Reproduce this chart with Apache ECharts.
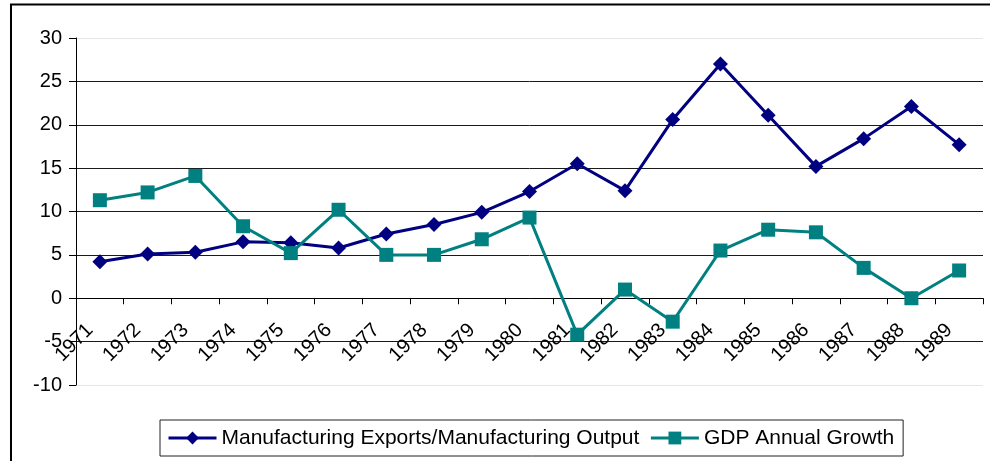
<!DOCTYPE html>
<html>
<head>
<meta charset="utf-8">
<script src="https://cdn.jsdelivr.net/npm/echarts@6/dist/echarts.min.js"></script>
<style>
html,body{margin:0;padding:0;background:#fff;}
#chart{width:990px;height:461px;}
</style>
</head>
<body>
<div id="chart"></div>
<script>
const years = ['1971','1972','1973','1974','1975','1976','1977','1978','1979','1980','1981','1982','1983','1984','1985','1986','1987','1988','1989'];
const mfgExports = [4.2,5.1,5.3,6.5,6.4,5.8,7.4,8.5,9.9,12.3,15.5,12.4,20.6,27.0,21.1,15.2,18.4,22.1,17.7];
const gdpGrowth = [11.3,12.2,14.1,8.3,5.2,10.2,5.0,5.0,6.8,9.3,-4.2,1.0,-2.7,5.5,7.9,7.6,3.5,0.0,3.2];
const seriesNames = ['Manufacturing Exports/Manufacturing Output','GDP Annual Growth'];
const yMin = -10, yMax = 30, yStep = 5;

const font = 'Liberation Sans, Arial, sans-serif';
const chart = echarts.init(document.getElementById('chart'), null, {renderer:'canvas'});
chart.setOption({
  animation:false,
  backgroundColor:'#fff',
  graphic:[{
    type:'rect', z:-10, silent:true,
    shape:{x:11, y:4.5, width:1200, height:700},
    style:{fill:'none', stroke:'#000', lineWidth:2}
  }],
  grid:{left:76, right:7, top:38, bottom:76, containLabel:false},
  legend:{
    left:160, top:420,
    padding:[7,9,7,7],
    itemGap:10,
    itemWidth:48, itemHeight:16,
    borderColor:'#222', borderWidth:1,
    lineStyle:{width:3},
    textStyle:{fontFamily:font, fontSize:21, color:'#000', lineHeight:22},
    data:seriesNames
  },
  xAxis:{
    type:'category',
    data:years,
    boundaryGap:true,
    axisLine:{onZero:true, lineStyle:{color:'#000', width:1}},
    axisTick:{show:true, length:6, lineStyle:{color:'#000'}},
    axisLabel:{interval:0, rotate:45, margin:-68, padding:[0,14,0,0], fontFamily:font, fontSize:20, color:'#000'},
    splitLine:{show:false}
  },
  yAxis:{
    type:'value',
    min:yMin, max:yMax, interval:yStep,
    axisLine:{show:true, lineStyle:{color:'#000', width:1}},
    axisTick:{show:true, length:7, lineStyle:{color:'#000'}},
    axisLabel:{margin:14, fontFamily:font, fontSize:20, color:'#000'},
    splitLine:{show:true, lineStyle:{width:1, color:['#e6e6e6','#1a1a1a','#1a1a1a','#1a1a1a','#1a1a1a','#1a1a1a','#1a1a1a','#1a1a1a','#e6e6e6']}}
  },
  series:[
    {
      name:seriesNames[0], type:'line', data:mfgExports,
      symbol:'diamond', symbolSize:15,
      lineStyle:{color:'#000080', width:3},
      itemStyle:{color:'#000080'},
      emphasis:{disabled:true}
    },
    {
      name:seriesNames[1], type:'line', data:gdpGrowth,
      symbol:'rect', symbolSize:14,
      lineStyle:{color:'#008080', width:3},
      itemStyle:{color:'#008080'},
      emphasis:{disabled:true}
    }
  ]
});
</script>
</body>
</html>
